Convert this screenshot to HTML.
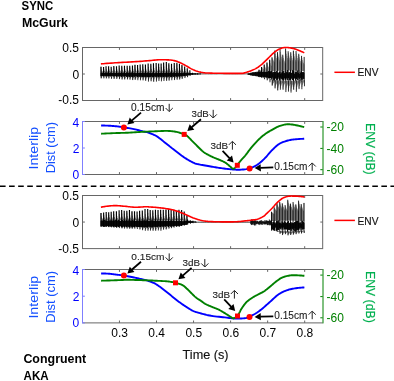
<!DOCTYPE html>
<html><head><meta charset="utf-8"><style>
html,body{margin:0;padding:0;background:#fff;width:394px;height:381px;overflow:hidden}
svg{display:block;will-change:transform}
text{font-family:"Liberation Sans",sans-serif}
</style></head><body>
<svg width="394" height="381" viewBox="0 0 394 381" font-family="Liberation Sans, sans-serif"><path d="M82.5 47.5H322.7 M82.5 100.5H322.7" stroke="#666666" stroke-width="1" fill="none"/>
<path d="M119.45 47.5v2.4 M119.45 100.5v-2.4M156.5 47.5v2.4 M156.5 100.5v-2.4M193.55 47.5v2.4 M193.55 100.5v-2.4M230.6 47.5v2.4 M230.6 100.5v-2.4M267.65 47.5v2.4 M267.65 100.5v-2.4M304.7 47.5v2.4 M304.7 100.5v-2.4" stroke="#666666" stroke-width="1" fill="none"/>
<path d="M82.5 47V101" stroke="#666666" stroke-width="1" fill="none"/>
<path d="M322.7 47V101" stroke="#666666" stroke-width="1" fill="none"/>
<path d="M82.5 74h2.4" stroke="#666666" stroke-width="1" fill="none"/>
<path d="M322.7 74h-2.4" stroke="#666666" stroke-width="1" fill="none"/>
<path d="M82.5 195.5H322.7 M82.5 248.6H322.7" stroke="#666666" stroke-width="1" fill="none"/>
<path d="M119.45 195.5v2.4 M119.45 248.6v-2.4M156.5 195.5v2.4 M156.5 248.6v-2.4M193.55 195.5v2.4 M193.55 248.6v-2.4M230.6 195.5v2.4 M230.6 248.6v-2.4M267.65 195.5v2.4 M267.65 248.6v-2.4M304.7 195.5v2.4 M304.7 248.6v-2.4" stroke="#666666" stroke-width="1" fill="none"/>
<path d="M82.5 195V249.1" stroke="#666666" stroke-width="1" fill="none"/>
<path d="M322.7 195V249.1" stroke="#666666" stroke-width="1" fill="none"/>
<path d="M82.5 222.05h2.4" stroke="#666666" stroke-width="1" fill="none"/>
<path d="M322.7 222.05h-2.4" stroke="#666666" stroke-width="1" fill="none"/>
<path d="M101 66.71V72.3M101 76.4V78.33M101.5 69.43V72.3M101.5 76.41V77.4M102 70.83V72.3M102 76.42V76.93M102.5 71.55V72.31M103 71.92V72.31M104 69.28V72.31M104 76.46V77.57M104.5 70.76V72.31M104.5 76.46V77.04M105 71.52V72.32M105.5 71.91V72.32M106.5 68.98V72.32M106.5 76.5V77.6M107 70.61V72.32M107 76.51V77.07M107.5 71.45V72.33M108 71.88V72.33M109 68.86V72.33M109 76.55V77.71M109.5 70.55V72.33M109.5 76.56V77.15M110 71.42V72.34M110 76.57V76.87M110.5 71.87V72.34M111.5 68.69V72.34M111.5 76.59V78.08M112 70.47V72.34M112 76.6V77.37M112.5 71.39V72.35M112.5 76.61V77M113 71.86V72.35M114 67.34V72.35M114 76.64V78.44M114.5 69.79V72.36M114.5 76.65V77.58M115 71.04V72.36M115 76.66V77.13M115.5 71.69V72.36M116 72.02V72.36M117 69.15V72.37M117 76.69V77.92M117.5 70.72V72.37M117.5 76.7V77.33M118 71.53V72.37M118 76.71V77.04M118.5 71.94V72.37M119.5 68.09V72.38M119.5 76.74V78.27M120 70.18V72.38M120 76.75V77.54M120.5 71.25V72.38M120.5 76.76V77.16M121 71.8V72.38M122 67.37V72.39M122 76.79V78.88M122.5 69.81V72.39M122.5 76.79V77.87M123 71.07V72.39M123 76.8V77.35M123.5 71.71V72.39M124 72.05V72.39M124.5 65.87V72.4M124.5 76.83V79.34M125 69.05V72.4M125 76.84V78.13M125.5 70.68V72.4M125.5 76.85V77.51M126 71.52V72.4M126 76.86V77.2M126.5 71.95V72.4M127.5 68.09V72.41M127.5 76.89V78.55M128 70.2V72.41M128 76.9V77.75M128.5 71.28V72.41M128.5 76.91V77.34M129 71.83V72.41M130 67.6V72.42M130 76.93V78.98M130.5 69.95V72.42M130.5 76.94V77.99M131 71.16V72.42M131 76.95V77.49M131.5 71.78V72.42M132 72.09V72.43M132.5 65.94V72.43M132.5 76.98V79.93M133 69.1V72.43M133 76.99V78.5M133.5 70.73V72.43M133.5 77V77.77M134 71.56V72.43M134 77.01V77.4M134.5 71.99V72.44M135 64.97V72.44M135 77.02V79.67M135.5 68.61V72.44M135.5 77.03V78.39M136 70.48V72.44M136 77.04V77.74M136.5 71.44V72.44M136.5 77.05V77.41M137 71.93V72.45M138 68.34V72.45M138 77.08V78.81M138.5 70.35V72.45M138.5 77.09V77.98M139 71.38V72.46M139 77.1V77.55M139.5 71.9V72.46M140.5 67.41V72.46M140.5 77.13V79.17M141 69.86V72.46M141 77.13V78.2M141.5 71.12V72.47M141.5 77.14V77.7M142 71.78V72.47M142.5 72.11V72.47M143 66.42V72.47M143 77.17V79.58M143.5 69.35V72.47M143.5 77.18V78.43M144 70.87V72.48M144 77.19V77.84M144.5 71.65V72.48M144.5 77.2V77.54M145 72.05V72.48M145.5 65.18V72.48M145.5 77.22V80.44M146 68.72V72.48M146 77.23V78.9M146.5 70.55V72.49M146.5 77.24V78.1M147 71.49V72.49M147 77.24V77.69M147.5 71.98V72.49M148.5 66.91V72.49M148.5 77.27V80.02M149 69.62V72.5M149 77.28V78.7M149.5 71.02V72.5M149.5 77.29V78.03M150 71.74V72.5M150 77.3V77.68M150.5 72.11V72.5M151 65.42V72.5M151 77.28V80.56M151.5 68.88V72.5M151.5 77.27V78.95M152 70.65V72.5M152 77.27V78.12M152.5 71.56V72.5M152.5 77.26V77.69M153 72.02V72.5M153.5 63.8V72.5M153.5 77.24V81.51M154 68.06V72.5M154 77.23V79.41M154.5 70.23V72.5M154.5 77.22V78.33M155 71.34V72.5M155 77.22V77.78M155.5 71.91V72.5M156 72.2V72.5M156.5 66.64V72.5M156.5 77.19V79.93M157 69.51V72.5M157 77.18V78.58M157.5 70.97V72.5M157.5 77.17V77.88M158 71.72V72.5M158 77.17V77.53M158.5 72.1V72.5M159 66.99V72.5M159 77.15V79.52M159.5 69.69V72.5M159.5 77.14V78.35M160 71.06V72.5M160 77.13V77.75M160.5 71.77V72.5M160.5 77.12V77.44M161 72.13V72.5M161.5 66.97V72.5M161.5 77.11V79.67M162 69.68V72.5M162 77.1V78.41M162.5 71.06V72.5M162.5 77.09V77.76M163 71.76V72.5M163 77.08V77.42M163.5 72.12V72.5M164 66.4V72.5M164 77.07V79.49M164.5 69.38V72.5M164.5 77.06V78.29M165 70.91V72.5M165 77.05V77.68M165.5 71.69V72.5M165.5 77.04V77.36M166 72.09V72.5M166.5 64.2V72.5M166.5 77.02V80.11M167 68.26V72.5M167 77.02V78.57M167.5 70.34V72.5M167.5 77.01V77.79M168 71.4V72.5M168 77V77.39M168.5 71.94V72.5M169 65.2V72.5M169 76.98V79.89M169.5 68.77V72.5M169.5 76.97V78.43M170 70.6V72.5M170 76.97V77.7M170.5 71.53V72.5M170.5 76.96V77.32M171 72.01V72.5M172 67.93V72.5M172 76.93V78.62M172.5 70.18V72.5M172.5 76.92V77.77M173 71.32V72.5M173 76.92V77.34M173.5 71.9V72.5M174 72.2V72.5M174.5 65.71V72.5M174.5 76.89V79.12M175 69.05V72.5M175 76.88V78M175.5 70.75V72.5M175.5 76.88V77.44M176 71.61V72.5M176.5 72.05V72.5M177 64.31V72.5M177 76.85V79.25M177.5 68.34V72.5M177.5 76.84V78.05M178 70.39V72.5M178 76.83V77.44M178.5 71.43V72.5M178.5 76.83V77.13M179 71.96V72.5M179.5 64.43V72.5M179.5 76.81V79.3M180 68.41V72.5M180 76.8V78.05M180.5 70.49V72.53M180.5 76.72V77.34M181 71.53V72.55M181 76.64V76.95M181.5 72.07V72.58M182 65.82V72.6M182 76.48V78.6M182.5 69.26V72.62M182.5 76.4V77.45M183 70.98V72.65M183 76.32V76.84M183.5 71.85V72.67M184 72.29V72.7M185 69.05V72.75M185 76V77.21M185.5 71V72.78M185.5 75.92V76.52M186 71.95V72.8M186.5 72.42V72.83M187.5 69.72V72.88M187.5 75.6V76.64M188 71.42V72.9M188 75.52V76M188.5 72.23V72.92M189 72.63V72.95" stroke="#000" stroke-width="0.5" stroke-opacity="0.8" fill="none"/>
<path d="M190 72.65V73M257 71.33V71.68M257.5 71.23V71.65M258 71.12V71.62M258.5 71.02V71.59M259 69.64V71.56M259 76.84V77.2M259.5 69.91V71.53M260 70.07V71.5M260.5 70.16V71.47M261 70.27V71.44M261.5 70.39V71.41M262 67.48V71.38M262 77.32V77.8M262.5 68.06V71.35M263 68.57V71.32M263.5 69.02V71.29M264 69.46V71.26M264.5 65.39V71.23M264.5 77.72V78.78M265 66.57V71.2M265 77.8V78.35M265.5 67.5V71.15M266 68.22V71.1M266.5 68.79V71.05M267 62.74V71M267 78.14V80.23M267.5 64.47V70.95M267.5 78.23V79.29M268 65.82V70.9M268 78.31V78.87M268.5 66.83V70.85M269 67.62V70.8M269.5 68.24V70.75M270 61.19V70.7M270 78.66V81.04M270.5 63.17V70.65M270.5 78.74V79.96M271 64.73V70.6M271 78.83V79.44M271.5 65.94V70.55M271.5 78.91V79.22" stroke="#000" stroke-width="0.5" stroke-opacity="0.45" fill="none"/>
<path d="M272 57.34V71M272 80V85.56M272.5 58.43V70.99M272.5 80.03V84.57M273 59.48V70.97M273 80.06V83.75M273.5 60.47V70.96M273.5 80.08V83.07M274 61.4V70.94M274 80.11V82.52M274.5 62.28V70.93M274.5 80.14V82.07M275 51.36V70.92M275 80.17V87.69M275.5 53.83V70.9M275.5 80.19V86.2M276 55.99V70.89M276 80.22V85M276.5 57.87V70.88M276.5 80.25V83.97M277 59.51V70.86M277 80.28V83.18M277.5 52.25V70.85M277.5 80.31V90.36M278 54.61V70.83M278 80.33V88.15M278.5 56.66V70.82M278.5 80.36V86.44M279 58.46V70.81M279 80.39V85.11M279.5 60.17V70.79M279.5 80.42V84.08M280 61.63V70.78M280 80.44V83.29M280.5 51.86V70.76M280.5 80.47V87.77M281 54.49V70.75M281 80.5V86.02M281.5 56.74V70.74M281.5 80.53V84.71M282 58.68V70.72M282 80.56V83.72M282.5 60.34V70.71M282.5 80.58V82.98M283 55.8V70.69M283 80.61V88.65M283.5 57.86V70.68M283.5 80.64V86.72M284 59.64V70.67M284 80.67V85.27M284.5 61.16V70.65M284.5 80.69V84.18M285 62.47V70.64M285 80.72V83.36M285.5 63.6V70.62M285.5 80.75V82.75M286 51.01V70.61M286 80.78V89.78M286.5 53.73V70.6M286.5 80.81V87.62M287 56.07V70.58M287 80.83V85.99M287.5 58.08V70.57M287.5 80.86V84.77M288 59.81V70.56M288 80.89V83.85M288.5 53.13V70.54M288.5 80.92V89.79M289 55.54V70.53M289 80.94V87.66M289.5 57.62V70.51M289.5 80.97V86.06M290 59.41V70.5M290 81V84.85M290.5 60.98V70.52M290.5 80.97V83.89M291 53.61V70.53M291 80.93V91.03M291.5 55.99V70.55M291.5 80.9V88.58M292 58.05V70.57M292 80.86V86.71M292.5 59.82V70.59M292.5 80.83V85.22M293 61.34V70.6M293 80.79V84.1M293.5 51.29V70.62M293.5 80.76V89.22M294 54.01V70.64M294 80.72V87.08M294.5 56.36V70.66M294.5 80.69V85.47M295 58.38V70.67M295 80.66V84.25M295.5 60.12V70.69M295.5 80.62V83.32M296 61.61V70.71M296 80.59V82.62M296.5 53.51V70.72M296.5 80.55V89.32M297 55.94V70.74M297 80.52V87.11M297.5 58.03V70.76M297.5 80.48V85.44M298 59.83V70.78M298 80.45V84.17M298.5 61.38V70.79M298.5 80.41V83.21M299 55.03V70.81M299 80.38V87.9M299.5 57.26V70.83M299.5 80.34V86M300 59.18V70.84M300 80.31V84.56M300.5 60.95V70.86M300.5 80.28V83.4M301 62.47V70.88M301 80.24V82.54M301.5 63.76V70.9M301.5 80.21V81.9M302 57.91V70.91M302 80.17V87.04M302.5 59.9V70.93M302.5 80.14V85.18M303 61.59V70.95M303 80.1V83.8M303.5 63.03V70.97M303.5 80.07V82.77M304 64.26V70.98M304 80.03V82.01" stroke="#000" stroke-width="0.5" stroke-opacity="0.6" fill="none"/>
<path d="M101 72.6V76.1M101.5 72.47V76.24M102 72.74V75.99M102.5 72.6V76.13M103 72.92V75.82M103.5 72.57V76.19M104 72.55V76.22M104.5 72.9V75.88M105 72.65V76.14M105.5 72.72V76.08M106 72.48V76.33M106.5 72.91V75.91M107 72.35V76.49M107.5 72.67V76.18M108 72.76V76.1M108.5 72.76V76.1M109 72.59V76.29M109.5 72.73V76.16M110 72.95V75.95M110.5 72.51V76.41M111 72.84V76.09M111.5 72.83V76.11M112 72.71V76.24M112.5 72.92V76.04M113 72.78V76.19M113.5 72.71V76.27M114 72.89V76.1M114.5 72.58V76.42M115 72.71V76.3M115.5 72.93V76.1M116 72.88V76.15M116.5 72.47V76.58M117 72.83V76.23M117.5 72.6V76.47M118 72.8V76.29M118.5 72.83V76.26M119 72.85V76.25M119.5 72.76V76.36M120 72.76V76.36M120.5 72.93V76.2M121 72.42V76.73M121.5 72.39V76.77M122 72.42V76.75M122.5 72.9V76.28M123 72.5V76.7M123.5 72.71V76.49M124 72.83V76.38M124.5 73.02V76.21M125 72.87V76.37M125.5 73.04V76.21M126 72.61V76.65M126.5 72.47V76.8M127 72.69V76.59M127.5 72.58V76.72M128 72.88V76.42M128.5 72.73V76.58M129 72.46V76.87M129.5 72.86V76.48M130 72.51V76.84M130.5 72.57V76.79M131 72.97V76.41M131.5 72.55V76.84M132 72.57V76.83M132.5 72.56V76.85M133 73.11V76.31M133.5 72.53V76.9M134 72.93V76.51M134.5 72.76V76.69M135 72.8V76.66M135.5 73.13V76.35M136 73.05V76.44M136.5 73.09V76.41M137 72.55V76.96M137.5 72.79V76.73M138 72.93V76.6M138.5 72.7V76.84M139 72.9V76.65M139.5 72.93V76.64M140 72.77V76.81M140.5 72.89V76.69M141 73.04V76.56M141.5 72.74V76.87M142 72.9V76.72M142.5 72.73V76.9M143 72.91V76.73M143.5 72.68V76.97M144 72.69V76.97M144.5 73.01V76.66M145 72.7V76.99M145.5 72.89V76.81M146 72.57V77.14M146.5 72.93V76.79M147 72.64V77.1M147.5 72.87V76.87M148 72.63V77.13M148.5 72.57V77.19M149 72.73V77.04M149.5 72.81V76.98M150 72.8V77M150.5 73.12V76.68M151 73.19V76.6M151.5 73.15V76.63M152 73.09V76.68M152.5 72.61V77.15M153 72.61V77.14M153.5 72.62V77.13M154 72.8V76.93M154.5 73.18V76.54M155 72.85V76.87M155.5 73.13V76.58M156 72.55V77.15M156.5 72.98V76.72M157 72.62V77.06M157.5 73.08V76.6M158 72.77V76.9M158.5 72.92V76.73M159 72.92V76.73M159.5 72.91V76.74M160 72.85V76.79M160.5 72.91V76.72M161 73.08V76.54M161.5 72.67V76.94M162 72.83V76.77M162.5 72.75V76.85M163 73.08V76.5M163.5 72.67V76.9M164 72.83V76.74M164.5 72.69V76.87M165 73V76.55M165.5 72.78V76.76M166 73.02V76.51M166.5 72.53V76.99M167 72.7V76.82M167.5 72.6V76.91M168 72.99V76.51M168.5 73.16V76.33M169 72.92V76.57M169.5 72.93V76.55M170 72.65V76.82M170.5 72.51V76.95M171 72.77V76.68M171.5 72.61V76.83M172 72.79V76.64M172.5 72.69V76.74M173 72.9V76.52M173.5 72.53V76.88M174 73.01V76.39M174.5 72.69V76.71M175 72.53V76.86M175.5 73V76.38M176 72.99V76.38M176.5 72.69V76.67M177 72.57V76.78M177.5 72.59V76.75M178 72.87V76.46M178.5 73.09V76.23M179 72.61V76.71M179.5 72.92V76.39M180 72.71V76.59M180.5 72.94V76.3M181 72.87V76.32M181.5 72.82V76.31M182 72.95V76.13M182.5 73.12V75.9M183 72.83V76.14M183.5 72.74V76.18M184 73.17V75.69M184.5 73.04V75.77M185 72.87V75.88M185.5 72.93V75.77M186 72.89V75.75M186.5 72.93V75.65M187 72.99V75.54M187.5 73.24V75.24M188 73.15V75.27M188.5 73.05V75.32M189 73.25V75.06M189.5 73.1V75.15M190 73.07V74.83M190.5 73.1V74.8M191 73.25V74.65M191.5 73.12V74.78M192 73.24V74.66M192.5 73.2V74.7M193 73.33V74.57M193.5 73.3V74.6M194 73.37V74.53M194.5 73.44V74.46M195 73.47V74.43M195.5 73.36V74.54M196 73.49V74.41M196.5 73.47V74.43M197 73.43V74.47M197.5 73.49V74.41M198 73.55V74.35M198.5 73.55V74.35M199 73.62V74.28M199.5 73.57V74.33M200 73.59V74.31M200.5 73.73V74.17M201 73.7V74.2M201.5 73.75V74.15M202 73.74V74.16M202.5 73.72V74.18M203 73.72V74.18M203.5 73.74V74.16M204 73.74V74.16M204.5 73.74V74.16M205 73.74V74.16M205.5 73.74V74.16M206 73.7V74.2M206.5 73.76V74.14M207 73.73V74.17M207.5 73.75V74.15M208 73.77V74.13M208.5 73.71V74.19M209 73.71V74.19M209.5 73.76V74.14M210 73.73V74.17M210.5 73.72V74.18M211 73.75V74.15M211.5 73.71V74.19M212 73.74V74.16M212.5 73.74V74.16M213 73.77V74.13M213.5 73.76V74.14M214 73.74V74.16M214.5 73.73V74.17M215 73.73V74.17M215.5 73.74V74.16M216 73.74V74.16M216.5 73.71V74.19M217 73.75V74.15M217.5 73.74V74.16M218 73.76V74.14M218.5 73.76V74.14M219 73.76V74.14M219.5 73.76V74.14M220 73.76V74.14M220.5 73.76V74.14M221 73.77V74.13M221.5 73.74V74.16M222 73.77V74.13M222.5 73.74V74.16M223 73.77V74.13M223.5 73.75V74.15M224 73.7V74.2M224.5 73.77V74.13M225 73.76V74.14M225.5 73.75V74.15M226 73.77V74.13M226.5 73.75V74.15M227 73.74V74.16M227.5 73.75V74.15M228 73.76V74.14M228.5 73.73V74.17M229 73.77V74.13M229.5 73.7V74.2M230 73.77V74.13M230.5 73.77V74.13M231 73.77V74.13M231.5 73.73V74.17M232 73.76V74.14M232.5 73.74V74.16M233 73.71V74.19M233.5 73.77V74.13M234 73.73V74.17M234.5 73.77V74.13M235 73.71V74.19M235.5 73.75V74.15M236 73.72V74.18M236.5 73.76V74.14M237 73.72V74.18M237.5 73.73V74.17M238 73.75V74.15M238.5 73.76V74.14M239 73.74V74.16M239.5 73.76V74.14M240 73.73V74.17M240.5 73.75V74.15M241 73.76V74.14M241.5 73.77V74.13M242 73.72V74.18M242.5 73.77V74.13M243 73.71V74.19M243.5 73.71V74.19M244 73.74V74.16M244.5 73.72V74.18M245 73.75V74.15M245.5 73.75V74.15M246 73.77V74.13M246.5 73.77V74.13M247 73.73V74.17M247.5 73.77V74.13M248 73.25V74.95M248.5 73.39V74.8M249 73.26V74.91M249.5 73.22V74.93M250 73.1V75.05M250.5 72.86V75.27M251 72.7V75.41M251.5 72.8V75.3M252 72.67V75.41M252.5 72.39V75.69M253 72.3V75.76M253.5 72.37V75.68M254 72.16V75.86M254.5 72.31V75.7M255 72.41V75.59M255.5 71.95V76.1M256 71.98V76.12M256.5 72.27V75.88M257 71.68V76.52M257.5 72.07V76.18M258 72.21V76.09M258.5 71.64V76.71M259 71.66V76.74M259.5 71.84V76.61M260 71.88V76.62M260.5 71.51V77.04M261 71.48V77.12M261.5 71.61V77.04M262 71.38V77.32M262.5 71.99V76.76M263 72.07V76.73M263.5 71.55V77.3M264 71.72V77.18M264.5 72.16V76.79M265 71.92V77.08M265.5 71.81V77.22M266 71.36V77.71M266.5 71.99V77.11M267 71.63V77.51M267.5 71.87V77.3M268 71.23V77.98M268.5 70.87V78.38M269 71.52V77.76M269.5 71.56V77.76M270 71.27V78.09M270.5 71.43V77.97M271 71.48V77.95M271.5 70.69V78.77M272 71.54V79.63M272.5 72.41V77.54M273 73.88V77.61M273.5 71.89V80.45M274 72.67V78.91M274.5 71.63V80.44M275 71.88V78.93M275.5 71.72V78.33M276 73.47V78.23M276.5 70.97V80.3M277 72.3V78.37M277.5 72.88V79.24M278 73.13V79.51M278.5 72.94V77.65M279 72.04V78.87M279.5 71.75V80.51M280 71.16V80.43M280.5 73.71V77.77M281 72.05V79.16M281.5 73.19V78.75M282 70.35V79.66M282.5 71.48V79.4M283 72.77V79.8M283.5 71.03V80.75M284 73.75V78.93M284.5 72.93V78.04M285 70.86V79.91M285.5 73.56V79.26M286 70.49V80.31M286.5 72.11V78.6M287 72.85V77.76M287.5 69.96V80.13M288 72.46V78.02M288.5 73.45V78.09M289 71.87V80.68M289.5 72.18V80.32M290 73.28V77.52M290.5 69.95V80.15M291 72.79V78.62M291.5 72.9V78.7M292 73.09V77.5M292.5 70.15V80.13M293 70.38V79.99M293.5 70.92V81.02M294 71.13V79.08M294.5 73.92V78.26M295 72.64V77.69M295.5 71.82V80.69M296 74.26V78.5M296.5 71.91V78.99M297 73.18V77.72M297.5 70.44V80.1M298 72.73V77.36M298.5 73.08V77.66M299 70.38V79.46M299.5 73.84V78.74M300 71.62V81.07M300.5 72.76V77.91M301 70.99V80.08M301.5 71.43V79.08M302 73.38V77.21M302.5 72.08V79.89M303 72.07V78.86M303.5 72.13V78.72M304 72.78V79.3" stroke="#000" stroke-width="0.9" fill="none"/>
<path d="M101 66.71V76.4M103.57 66.9V76.45M106.05 66.25V76.49M108.59 66.32V76.54M111.18 66.76V76.59M113.82 65.97V76.64M116.51 66.21V76.68M119.16 65.61V76.73M121.78 65.68V76.78M124.48 65.68V76.83M127.18 65.76V76.88M129.75 65.69V76.93M132.46 65.6V76.98M134.97 64.64V77.02M137.55 64.96V77.07M140.15 64.47V77.12M142.78 64.31V77.17M145.42 64.39V77.22M148.15 63.61V77.27M150.84 63.77V77.29M153.46 63.35V77.24M156.15 63.09V77.2M158.63 63.49V77.16M161.13 63.38V77.11M163.64 62.55V77.07M166.33 62.12V77.03M168.82 63.15V76.99M171.51 63.67V76.94M174.24 62.89V76.9M176.87 62.73V76.85M179.45 63.82V76.81M181.93 65.09V76.49M184.65 66.52V76.06M187.24 68.18V75.64M189.86 70.15V75.22M190 72.65V74.9M192.5 72.86V74.76M195.06 73.06V74.61M197.67 73.28V74.46M200.22 73.48V74.32M200.5 73.61V74.2M259 69.64V76.84M261.57 66.95V77.25M264.19 64.52V77.67M266.97 62.62V78.14M269.68 59.64V78.6" stroke="#000" stroke-width="1.15" fill="none"/>
<path d="M272 57.34V80M274.78 50.5V80.15M277.49 52.2V80.31M280.07 49.27V80.45M282.76 54.7V80.6M285.59 48.46V80.75M288.16 51.26V80.9M290.74 52.2V80.95M293.39 50.61V80.77M296.06 51.07V80.58M298.75 53.76V80.4M301.56 55.86V80.2M304.16 56.92V80.02" stroke="#000" stroke-width="0.85" fill="none"/>
<path d="M101.3 76.4V78.33M103.87 76.45V78.43M106.35 76.49V78.48M108.89 76.54V78.55M111.48 76.59V78.86M114.12 76.64V78.93M116.81 76.68V79.02M119.46 76.73V79.15M122.08 76.78V79.58M124.78 76.83V79.41M127.48 76.88V79.45M130.05 76.93V79.78M132.76 76.98V80.08M135.27 77.02V79.78M137.85 77.07V80.23M140.45 77.12V80.34M143.08 77.17V80.41M145.72 77.22V80.79M148.45 77.27V81.61M151.14 77.29V81.34M153.76 77.24V81.74M156.45 77.2V81.6M158.93 77.16V81.04M161.43 77.11V81.35M163.94 77.07V81.03M166.63 77.03V80.91M169.12 76.99V80.73M171.81 76.94V80.25M174.54 76.9V80.08M177.17 76.85V79.73M179.75 76.81V79.49M182.23 76.49V78.83M184.95 76.06V78.05M187.54 75.64V77.21M190.16 75.22V75.99M190.3 74.9V75.17M192.8 74.76V75M195.36 74.61V74.8M197.97 74.46V74.6M200.52 74.32V74.42M200.8 74.2V74.29M259.3 76.84V77.2M261.87 77.25V78.06M264.49 77.67V79.26M267.27 78.14V80.32M269.98 78.6V82.28M272.3 80V85.56M275.08 80.15V88.44M277.79 80.31V90.4M280.37 80.45V89.72M283.06 80.6V89.78M285.89 80.75V92.07M288.46 80.9V91.63M291.04 80.95V92.61M293.69 80.77V89.79M296.36 80.58V91.83M299.05 80.4V89.1M301.86 80.2V89.24M304.46 80.02V86.28" stroke="#000" stroke-width="0.8" fill="none"/>
<path d="M100.9 63.9 L101.98 63.81 L103.41 63.7 L105.12 63.55 L107.01 63.4 L109.03 63.24 L111.08 63.08 L113.1 62.93 L115 62.8 L116.83 62.69 L118.66 62.59 L120.52 62.49 L122.38 62.4 L124.26 62.31 L126.16 62.21 L128.07 62.11 L130 62 L131.97 61.88 L134.01 61.75 L136.07 61.61 L138.14 61.47 L140.2 61.33 L142.21 61.18 L144.15 61.04 L146 60.9 L147.78 60.75 L149.53 60.6 L151.24 60.44 L152.89 60.28 L154.48 60.13 L155.98 60 L157.39 59.88 L158.7 59.8 L159.87 59.74 L160.92 59.71 L161.86 59.7 L162.72 59.7 L163.54 59.72 L164.34 59.74 L165.15 59.77 L166 59.8 L166.87 59.83 L167.73 59.86 L168.57 59.89 L169.41 59.93 L170.24 59.99 L171.07 60.06 L171.89 60.17 L172.7 60.3 L173.51 60.46 L174.3 60.65 L175.09 60.85 L175.87 61.08 L176.65 61.33 L177.43 61.6 L178.21 61.89 L179 62.2 L179.8 62.54 L180.6 62.9 L181.4 63.29 L182.2 63.69 L183 64.11 L183.8 64.54 L184.6 64.97 L185.4 65.4 L186.19 65.84 L186.98 66.3 L187.77 66.77 L188.56 67.24 L189.34 67.71 L190.13 68.17 L190.91 68.6 L191.7 69 L192.49 69.37 L193.27 69.73 L194.06 70.07 L194.84 70.39 L195.63 70.7 L196.42 70.99 L197.21 71.25 L198 71.5 L198.8 71.73 L199.61 71.93 L200.43 72.12 L201.24 72.29 L202.05 72.44 L202.85 72.57 L203.64 72.69 L204.4 72.8 L205.11 72.89 L205.75 72.95 L206.37 72.99 L206.98 73.02 L207.61 73.04 L208.31 73.06 L209.09 73.07 L210 73.1 L210.97 73.13 L211.96 73.16 L212.99 73.19 L214.1 73.21 L215.32 73.24 L216.69 73.26 L218.24 73.28 L220 73.3 L222.13 73.32 L224.67 73.34 L227.47 73.37 L230.38 73.39 L233.23 73.4 L235.89 73.41 L238.2 73.41 L240 73.4 L241.26 73.38 L242.12 73.36 L242.65 73.33 L242.97 73.29 L243.17 73.24 L243.35 73.18 L243.59 73.1 L244 73 L244.53 72.88 L245.08 72.75 L245.63 72.59 L246.19 72.42 L246.75 72.25 L247.3 72.07 L247.86 71.88 L248.4 71.7 L248.93 71.52 L249.46 71.33 L249.99 71.14 L250.51 70.95 L251.03 70.75 L251.55 70.54 L252.08 70.33 L252.6 70.1 L253.12 69.87 L253.65 69.63 L254.17 69.39 L254.7 69.14 L255.22 68.88 L255.75 68.6 L256.27 68.31 L256.8 68 L257.32 67.67 L257.85 67.33 L258.38 66.98 L258.9 66.61 L259.43 66.22 L259.95 65.83 L260.48 65.42 L261 65 L261.52 64.57 L262.05 64.12 L262.57 63.65 L263.1 63.17 L263.62 62.69 L264.15 62.2 L264.68 61.7 L265.2 61.2 L265.72 60.7 L266.24 60.18 L266.76 59.66 L267.27 59.14 L267.8 58.61 L268.32 58.07 L268.86 57.54 L269.4 57 L269.95 56.45 L270.51 55.89 L271.08 55.32 L271.65 54.75 L272.23 54.19 L272.81 53.63 L273.4 53.1 L274 52.6 L274.61 52.11 L275.22 51.64 L275.85 51.17 L276.48 50.73 L277.11 50.3 L277.74 49.9 L278.37 49.53 L279 49.2 L279.62 48.9 L280.25 48.63 L280.88 48.39 L281.5 48.18 L282.12 48 L282.75 47.84 L283.38 47.71 L284 47.6 L284.62 47.52 L285.25 47.48 L285.88 47.47 L286.5 47.49 L287.12 47.52 L287.75 47.57 L288.38 47.63 L289 47.7 L289.62 47.78 L290.25 47.87 L290.88 47.97 L291.5 48.09 L292.12 48.23 L292.75 48.37 L293.38 48.53 L294 48.7 L294.62 48.88 L295.24 49.08 L295.86 49.29 L296.48 49.52 L297.1 49.75 L297.73 50 L298.36 50.25 L299 50.5 L299.68 50.78 L300.43 51.09 L301.2 51.43 L301.96 51.76 L302.69 52.08 L303.34 52.38 L303.89 52.62 L304.3 52.8" fill="none" stroke="#ff0000" stroke-width="1.6" stroke-linejoin="round"/>
<path d="M101 213.04V219.8M101.5 216.32V219.8M102 218.01V219.8M102.5 218.88V219.81M103 219.33V219.81M104 215.24V219.81M104.5 217.46V219.81M105 218.6V219.82M105.5 219.19V219.82M106 219.5V219.82M106.5 214.59V219.82M107 217.13V219.82M107.5 218.44V219.83M108 219.12V219.83M108.5 219.46V219.83M109 214.82V219.83M109.5 217.26V219.83M110 218.51V219.84M110.5 219.16V219.84M111 219.49V219.84M111.5 214.65V219.84M112 217.17V219.84M112.5 218.47V219.85M113 219.14V219.85M113.5 219.49V219.85M114 214.23V219.85M114 227.07V227.44M114.5 216.96V219.86M115 218.37V219.86M115.5 219.09V219.86M116 219.47V219.86M116.5 212.45V219.86M116.5 227.12V227.8M117 216.05V219.87M117 227.13V227.49M117.5 217.91V219.87M118 218.86V219.87M118.5 219.35V219.87M119.5 214.04V219.88M119.5 227.18V227.74M120 216.88V219.88M120.5 218.34V219.88M121 219.09V219.88M121.5 219.48V219.88M122 213.54V219.89M122 227.23V228.02M122.5 216.63V219.89M122.5 227.24V227.66M123 218.21V219.89M123.5 219.03V219.89M124 219.46V219.89M124.5 213.73V219.9M124.5 227.28V228.17M125 216.76V219.9M125 227.29V227.74M125.5 218.31V219.9M126 219.09V219.9M126.5 219.49V219.9M127 212.56V219.91M127 227.33V228.34M127.5 216.17V219.91M127.5 227.34V227.85M128 218.01V219.91M128.5 218.95V219.91M129 219.42V219.91M129.5 210.73V219.92M129.5 227.38V228.6M130 215.25V219.92M130 227.39V228.01M130.5 217.55V219.92M130.5 227.4V227.72M131 218.72V219.92M131.5 219.31V219.92M132 211.49V219.93M132 227.43V228.61M132.5 215.64V219.93M132.5 227.44V228.04M133 217.75V219.93M133 227.45V227.76M133.5 218.83V219.93M134 219.37V219.93M135 215.36V219.94M135 227.49V228.13M135.5 217.62V219.94M135.5 227.5V227.83M136 218.76V219.94M136.5 219.34V219.94M137 219.63V219.95M137.5 215.14V219.95M137.5 227.54V228.36M138 217.47V219.95M138 227.56V228M138.5 218.68V219.95M139 219.3V219.96M139.5 219.62V219.96M140 214.49V219.96M140 227.6V228.78M140.5 217.15V219.96M140.5 227.61V228.24M141 218.52V219.96M141 227.62V227.96M141.5 219.22V219.97M142 219.58V219.97M142.5 212.71V219.97M142.5 227.65V229.66M143 216.24V219.97M143 227.66V228.73M143.5 218.05V219.97M143.5 227.67V228.23M144 218.99V219.98M144 227.68V227.98M144.5 219.47V219.98M145.5 214.21V219.98M145.5 227.71V229.34M146 217.03V219.98M146 227.72V228.55M146.5 218.48V219.99M146.5 227.73V228.15M147 219.22V219.99M147.5 219.6V219.99M148 212.75V219.99M148 227.76V229.75M148.5 216.29V219.99M148.5 227.77V228.78M149 218.11V220M149 227.78V228.29M149.5 219.03V220M150 219.51V220M150.5 213.47V220M150.5 227.78V229.62M151 216.67V220.01M151 227.76V228.7M151.5 218.31V220.01M151.5 227.74V228.22M152 219.15V220.02M152.5 219.58V220.03M153 212.56V220.03M153 227.67V230.08M153.5 216.22V220.03M153.5 227.65V228.88M154 218.09V220.04M154 227.63V228.26M154.5 219.05V220.05M154.5 227.61V227.93M155 219.54V220.05M155.5 210.38V220.06M155.5 227.56V230.48M156 215.12V220.06M156 227.54V229.04M156.5 217.54V220.06M156.5 227.52V228.29M157 218.78V220.07M157 227.5V227.89M157.5 219.42V220.07M158 219.74V220.08M158.5 214.7V220.09M158.5 227.43V229.07M159 217.34V220.09M159 227.41V228.25M159.5 218.69V220.09M159.5 227.39V227.82M160 219.38V220.1M160.5 219.74V220.11M161 213.82V220.11M161 227.32V229.38M161.5 216.91V220.12M161.5 227.3V228.32M162 218.49V220.12M162 227.28V227.78M162.5 219.3V220.12M163 219.71V220.13M163.5 212.49V220.13M163.5 227.22V229.05M164 216.25V220.14M164 227.19V228.1M164.5 218.16V220.15M164.5 227.17V227.62M165 219.14V220.15M165.5 219.64V220.16M166 209.9V220.16M166 227.11V229.25M166.5 214.95V220.17M166.5 227.09V228.13M167 217.51V220.17M167 227.06V227.57M167.5 218.82V220.18M168 219.49V220.18M168.5 219.84V220.19M169 213.68V220.19M169 226.98V227.95M169.5 216.88V220.19M169.5 226.96V227.42M170 218.51V220.2M170.5 219.35V220.21M171 219.77V220.21M171.5 213.76V220.22M171.5 226.87V227.62M172 216.94V220.22M172 226.85V227.2M172.5 218.55V220.23M173 219.38V220.23M173.5 219.8V220.24M174 212.25V220.24M174 226.76V227.3M174.5 216.18V220.25M175 218.18V220.25M175.5 219.19V220.25M176 219.71V220.26M176.5 212.34V220.27M177 216.2V220.27M177.5 218.18V220.28M178 219.21V220.28M178.5 219.73V220.29M179 210.56V220.29M179.5 215.3V220.3M180 217.73V220.3M180.5 219.01V220.33M181 219.69V220.37M181.5 220.05V220.4M182 214.11V220.43M182.5 217.39V220.47M183 219.01V220.5M183.5 219.81V220.53M184 220.22V220.57M184.5 214.72V220.6M185 217.81V220.63M185.5 219.36V220.67M186 220.1V220.7M187 215.82V220.77" stroke="#000" stroke-width="0.5" stroke-opacity="0.8" fill="none"/>
<path d="M187.5 219.51V220.5M187.5 223.5V224.37M188 219.93V220.57M188 223.44V223.82M188.5 220.22V220.64M190.5 220.41V220.92M190.5 223.11V223.5M191 220.67V220.99M193 220.84V221.28M193 222.79V223.11" stroke="#000" stroke-width="0.5" stroke-opacity="0.45" fill="none"/>
<path d="M271.5 211.78V221M272 212.25V220.99M272.5 212.71V220.97M273 213.15V220.96M273.5 213.59V220.95M274 214.01V220.93M274.5 207.79V220.92M275 208.59V220.91M275.5 209.36V220.89M276 210.09V220.88M276.5 210.89V220.86M277 203.31V220.85M277 230.8V231.67M277.5 204.63V220.84M277.5 230.82V231.77M278 205.85V220.82M278 230.85V231.82M278.5 206.99V220.81M278.5 230.88V231.81M279 208.04V220.8M279 230.91V231.78M279.5 209.02V220.78M279.5 230.93V231.74M280 202.69V220.77M280 230.96V233.57M280.5 204.4V220.76M280.5 230.99V233.31M281 205.94V220.74M281 231.01V233.07M281.5 207.34V220.73M281.5 231.04V232.84M282 208.6V220.72M282 231.07V232.63M282.5 204.02V220.7M282.5 231.09V234.69M283 205.59V220.69M283 231.12V233.98M283.5 207.02V220.68M283.5 231.15V233.42M284 208.3V220.66M284 231.18V232.99M284.5 209.47V220.65M284.5 231.2V232.64M285 210.52V220.64M285 231.23V232.38M285.5 206.27V220.62M285.5 231.26V233.76M286 207.63V220.61M286 231.28V233.27M286.5 208.85V220.59M286.5 231.31V232.89M287 209.96V220.58M287 231.34V232.6M287.5 210.96V220.57M287.5 231.36V232.37M288 200.82V220.55M288 231.39V234.94M288.5 202.69V220.54M288.5 231.42V234.24M289 204.37V220.53M289 231.45V233.69M289.5 205.9V220.51M289.5 231.47V233.26M290 207.28V220.5M290 231.5V232.92M290.5 203.83V220.52M290.5 231.47V234.86M291 205.49V220.53M291 231.43V234.18M291.5 206.98V220.55M291.5 231.4V233.61M292 208.33V220.57M292 231.36V233.15M292.5 209.55V220.59M292.5 231.33V232.77M293 210.65V220.6M293 231.29V232.46M293.5 203.58V220.62M293.5 231.26V234.11M294 205.27V220.64M294 231.22V233.52M294.5 206.8V220.66M294.5 231.19V233.04M295 208.18V220.67M295 231.16V232.65M295.5 209.42V220.69M295.5 231.12V232.29M296 204.95V220.71M296 231.09V233.94M296.5 206.51V220.72M296.5 231.05V233.28M297 207.93V220.74M297 231.02V232.76M297.5 209.2V220.76M297.5 230.98V232.34M298 210.36V220.78M298 230.95V232.01M298.5 211.4V220.79M298.5 230.91V231.74M299 202.4V220.81M299 230.88V233.07M299.5 204.22V220.83M299.5 230.84V232.55M300 205.87V220.84M300 230.81V232.14M300.5 207.47V220.86M300.5 230.78V231.81M301 208.91V220.88M301 230.74V231.54M301.5 205.1V220.9M301.5 230.71V233.1M302 206.79V220.91M302 230.67V232.53M302.5 208.3V220.93M302.5 230.64V232.08M303 209.66V220.95M303 230.6V231.72M303.5 210.88V220.97M303.5 230.57V231.43M304 203.05V220.98M304 230.53V232.9" stroke="#000" stroke-width="0.5" stroke-opacity="0.7" fill="none"/>
<path d="M101 220.6V226M101.5 220.23V226.38M102 220.85V225.77M102.5 220.47V226.17M103 219.86V226.79M103.5 220.32V226.34M104 220.15V226.52M104.5 219.92V226.77M105 219.95V226.75M105.5 220.46V226.25M106 220.77V225.95M106.5 220.82V225.91M107 220.67V226.08M107.5 220.53V226.23M108 220.9V225.88M108.5 220.79V225.99M109 220.87V225.92M109.5 220.25V226.56M110 220.64V226.18M110.5 220.52V226.31M111 220V226.84M111.5 220.42V226.44M112 220.83V226.04M112.5 220.56V226.33M113 220.03V226.86M113.5 220.91V226M114 220.36V226.55M114.5 220.35V226.58M115 220.37V226.57M115.5 220.01V226.95M116 220.66V226.3M116.5 220.77V226.21M117 220.37V226.62M117.5 220.6V226.41M118 220.08V226.94M118.5 220.03V227M119 220.07V226.97M119.5 220.72V226.33M120 220.58V226.48M120.5 220.95V226.13M121 220.7V226.39M121.5 219.93V227.17M122 219.96V227.16M122.5 219.94V227.19M123 220.75V226.39M123.5 220.78V226.37M124 220.31V226.85M124.5 220.07V227.1M125 220.28V226.91M125.5 220.92V226.28M126 220V227.21M126.5 220.18V227.04M127 220.82V226.42M127.5 220.65V226.6M128 219.94V227.32M128.5 220.58V226.69M129 220.22V227.06M129.5 220.89V226.4M130 220.03V227.29M130.5 220.88V226.44M131 219.94V227.39M131.5 220.66V226.69M132 220.9V226.45M132.5 219.96V227.41M133 220.46V226.92M133.5 220.57V226.82M134 220.13V227.28M134.5 220.78V226.64M135 220.8V226.63M135.5 220.78V226.66M136 220.93V226.53M136.5 220.68V226.79M137 220.42V227.06M137.5 220.61V226.88M138 220.52V226.99M138.5 220.5V227.02M139 220.6V226.94M139.5 221.1V226.45M140 220.91V226.65M140.5 220.28V227.29M141 220.74V226.84M141.5 220.48V227.12M142 221V226.61M142.5 220.83V226.78M143 220.23V227.39M143.5 220.48V227.16M144 220.08V227.58M144.5 220.43V227.24M145 220.54V227.13M145.5 220.62V227.07M146 220.59V227.11M146.5 220.34V227.38M147 220.05V227.67M147.5 220.5V227.24M148 220.18V227.57M148.5 221.02V226.74M149 221.08V226.7M149.5 221.08V226.71M150 220.25V227.55M150.5 220.99V226.79M151 220.4V227.36M151.5 220.15V227.6M152 220.92V226.81M152.5 220.72V227M153 220.04V227.66M153.5 220.99V226.69M154 220.59V227.08M154.5 220.96V226.69M155 220.36V227.27M155.5 220.56V227.06M156 221.16V226.44M156.5 220.49V227.1M157 221.11V226.45M157.5 220.31V227.24M158 221.07V226.46M158.5 221.14V226.37M159 220.89V226.61M159.5 220.73V226.76M160 220.3V227.17M160.5 221.03V226.42M161 220.57V226.86M161.5 221.1V226.32M162 220.45V226.95M162.5 221.12V226.27M163 220.52V226.85M163.5 221.11V226.24M164 221.13V226.21M164.5 220.72V226.6M165 220.62V226.68M165.5 220.92V226.36M166 220.65V226.61M166.5 221.09V226.16M167 221.15V226.08M167.5 220.88V226.33M168 220.43V226.77M168.5 220.7V226.49M169 220.85V226.31M169.5 220.96V226.19M170 220.47V226.66M170.5 221.02V226.1M171 220.28V226.82M171.5 220.4V226.69M172 220.72V226.34M172.5 220.83V226.22M173 220.54V226.5M173.5 220.88V226.14M174 220.53V226.47M174.5 220.82V226.16M175 221.17V225.8M175.5 221.15V225.8M176 220.98V225.96M176.5 221.14V225.77M177 220.39V226.51M177.5 220.96V225.93M178 220.95V225.92M178.5 221.08V225.77M179 220.98V225.85M179.5 220.32V226.5M180 221V225.8M180.5 220.96V225.74M181 221.25V225.35M181.5 220.85V225.65M182 221.1V225.3M182.5 221.27V225.03M183 221.21V224.99M183.5 221.26V224.84M184 221.07V224.93M184.5 220.89V225.01M185 220.8V225M185.5 220.85V224.85M186 221.08V224.52M186.5 220.74V224.76M187 220.93V224.47M187.5 220.69V223.31M188 220.71V223.3M188.5 220.96V223.06M189 221.05V222.97M189.5 221.11V222.91M190 221.01V223.02M190.5 221.05V222.99M191 221.15V222.89M191.5 221.12V222.92M192 221.27V222.78M192.5 221.29V222.77M193 221.34V222.73M193.5 221.54V222.53M194 221.47V222.61M194.5 221.53V222.55M195 221.63V222.46M195.5 221.69V222.4M196 221.88V222.32M196.5 221.87V222.33M197 221.86V222.34M197.5 221.89V222.31M198 221.87V222.33M198.5 221.83V222.37M199 221.86V222.34M199.5 221.85V222.35M200 221.88V222.32M200.5 221.87V222.33M201 221.81V222.39M201.5 221.85V222.35M202 221.8V222.4M202.5 221.87V222.33M203 221.8V222.4M203.5 221.84V222.36M204 221.84V222.36M204.5 221.88V222.32M205 221.84V222.36M205.5 221.83V222.37M206 221.81V222.39M206.5 221.89V222.31M207 221.85V222.35M207.5 221.86V222.34M208 221.86V222.34M208.5 221.81V222.39M209 221.82V222.38M209.5 221.88V222.32M210 221.83V222.37M210.5 221.86V222.34M211 221.85V222.35M211.5 221.84V222.36M212 221.85V222.35M212.5 221.89V222.31M213 221.81V222.39M213.5 221.81V222.39M214 221.87V222.33M214.5 221.87V222.33M215 221.8V222.4M215.5 221.82V222.38M216 221.81V222.39M216.5 221.84V222.36M217 221.89V222.31M217.5 221.85V222.35M218 221.83V222.37M218.5 221.89V222.31M219 221.88V222.32M219.5 221.86V222.34M220 221.82V222.38M220.5 221.87V222.33M221 221.86V222.34M221.5 221.85V222.35M222 221.88V222.32M222.5 221.81V222.39M223 221.87V222.33M223.5 221.8V222.4M224 221.88V222.32M224.5 221.88V222.32M225 221.88V222.32M225.5 221.87V222.33M226 221.81V222.39M226.5 221.85V222.35M227 221.84V222.36M227.5 221.86V222.34M228 221.87V222.33M228.5 221.88V222.32M229 221.83V222.37M229.5 221.87V222.33M230 221.87V222.33M230.5 221.85V222.35M231 221.81V222.39M231.5 221.89V222.31M232 221.83V222.37M232.5 221.85V222.35M233 221.89V222.31M233.5 221.81V222.39M234 221.81V222.39M234.5 221.87V222.33M235 221.88V222.32M235.5 221.83V222.37M236 221.83V222.37M236.5 221.82V222.38M237 221.84V222.36M237.5 221.82V222.38M238 221.81V222.39M238.5 221.86V222.34M239 221.87V222.33M239.5 221.83V222.37M240 221.88V222.32M240.5 221.84V222.36M241 221.87V222.33M241.5 221.89V222.31M242 221.85V222.35M242.5 221.83V222.37M243 221.85V222.35M243.5 221.87V222.33M244 221.83V222.37M244.5 221.89V222.31M245 221.83V222.37M245.5 221.87V222.33M246 221.81V222.39M246.5 221.89V222.31M247 221.85V222.35M247.5 221.87V222.33M248 221.82V222.38M248.5 221.87V222.33M249 221.86V222.34M249.5 221.87V222.33M250 221.82V222.38M250.5 221.8V222.4M250.8 220.28V223.97M251.3 220.43V224.76M251.8 219.13V225.08M252.3 220.42V223.99M252.8 219.5V224.79M253.3 220.93V223.22M253.8 221.25V224.6M254.3 220.34V225.2M254.8 220.39V225.57M255.3 220.71V223.78M255.8 220.36V225.26M256.3 221.68V223.8M256.8 220.89V224.03M257.3 220.78V223.75M257.8 221.4V223.37M258.3 221.59V224.56M258.8 221.95V224.23M259.3 221.24V223.74M259.8 220.86V225.07M260.3 220.65V223.74M260.8 220.91V224.11M261.3 220.11V224.54M261.8 221.58V224.45M262.3 221.56V223.49M262.8 220.83V224.91M263.3 221.16V223.1M263.8 222.01V224.01M264.3 221.56V224.09M264.8 220.28V224.54M265.3 221.75V224.29M265.8 220.58V224.05M266.3 220.44V224.29M266.8 220.67V223.42M267.3 220.78V225.13M267.8 220.9V225.05M268.3 221.11V223.41M268.8 221V224.96M269.3 219.49V225.32M269.8 220.73V224.16M270.3 220.69V225.19M270.8 221.11V224.51M271.3 219.91V225.74M271.5 224.03V228.7M272 221.92V229.04M272.5 223.5V229.61M273 221.95V228.73M273.5 221.75V230.3M274 220.32V229.97M274.5 222.96V229.64M275 222.04V230.88M275.5 223.39V227.56M276 222.99V227.64M276.5 221.08V230.82M277 220.86V230.38M277.5 221.16V230.34M278 223.49V229.07M278.5 220.34V230.08M279 222.21V229.87M279.5 222.96V228.34M280 222.92V227.86M280.5 223.2V228.86M281 221.34V229.47M281.5 223.51V227.71M282 221.21V229.56M282.5 222.37V228.48M283 221.41V230.56M283.5 222.98V227.57M284 222.65V229.35M284.5 221.14V229.41M285 223.61V228.88M285.5 222.16V229.03M286 223.55V229.79M286.5 222.91V229.21M287 222.52V229.13M287.5 221.8V231.72M288 222.14V228.84M288.5 220.95V230.06M289 224.43V228.83M289.5 222.92V230.09M290 223.07V230.15M290.5 221.75V229.15M291 223.84V228.29M291.5 222.38V230.88M292 223.71V228.61M292.5 222.62V229.31M293 223V228.21M293.5 222.83V230.41M294 223.45V228.38M294.5 222.02V231.32M295 222.6V228.03M295.5 221.63V231.7M296 221.6V228.76M296.5 220.77V230.64M297 221.23V230.91M297.5 220.75V229.9M298 220.98V229.85M298.5 223.16V229.66M299 220.82V229.86M299.5 223.02V228.33M300 222.1V229.18M300.5 223.07V227.76M301 222.33V230.56M301.5 223.82V227.98M302 220.88V229.22M302.5 220.79V229.56M303 222.19V229.52M303.5 221.73V229.18M304 222.78V229" stroke="#000" stroke-width="0.9" fill="none"/>
<path d="M101 213.04V226.8M103.64 212.43V226.85M106.2 212.07V226.91M108.68 212.2V226.96M111.18 211.87V227.01M113.68 211.25V227.06M116.4 211.35V227.11M119.12 210.21V227.17M121.67 209.98V227.22M124.22 210.83V227.27M126.84 210.74V227.33M129.45 210.07V227.38M131.97 211.18V227.43M134.52 211.22V227.48M137.07 211.46V227.54M139.61 210.73V227.59M142.3 210.54V227.64M145.03 209.1V227.7M147.7 209.08V227.75M150.18 209.89V227.79M152.79 210.18V227.68M155.45 209.64V227.56M158.03 210V227.45M160.63 209.69V227.34M163.28 209.83V227.22M165.96 209.38V227.11M168.61 209.11V226.99M171.12 209.43V226.88M173.79 209.63V226.77M176.36 210.74V226.66M178.95 209.87V226.55M181.63 210.09V226.06M184.21 211.59V225.38M186.93 215.21V224.65M187.5 219.51V223.5M190.2 220.21V223.15M192.88 220.78V222.8M195.48 221.41V222.47M196 221.8V222.4" stroke="#000" stroke-width="1.15" fill="none"/>
<path d="M271.5 211.78V230.5M274.15 207.21V230.64M276.93 203.12V230.79M279.7 201.79V230.94M282.27 203.24V231.08M285.1 205.09V231.24M287.74 199.76V231.38M290.44 203.62V231.47M293.07 201.97V231.29M295.81 204.32V231.1M298.56 200.62V230.91M301.2 204V230.73M303.97 202.91V230.54" stroke="#000" stroke-width="0.85" fill="none"/>
<path d="M101.3 226.8V226.51M103.94 226.85V226.74M106.5 226.91V226.96M108.98 226.96V227.18M111.48 227.01V227.37M113.98 227.06V227.61M116.7 227.11V227.89M119.42 227.17V228.08M121.97 227.22V228.44M124.52 227.27V228.58M127.14 227.33V228.58M129.75 227.38V228.69M132.27 227.43V228.65M134.82 227.48V228.69M137.37 227.54V228.9M139.91 227.59V229.52M142.6 227.64V230.22M145.33 227.7V230.79M148 227.75V230.76M150.48 227.79V230.63M153.09 227.68V230.84M155.75 227.56V230.7M158.33 227.45V230.5M160.93 227.34V230.81M163.58 227.22V229.74M166.26 227.11V229.37M168.91 226.99V228.72M171.42 226.88V228.21M174.09 226.77V227.52M176.66 226.66V226.91M179.25 226.55V226.33M181.93 226.06V225.75M184.51 225.38V225.22M187.23 224.65V224.62M187.8 223.5V224.37M190.5 223.15V223.79M193.18 222.8V223.2M195.78 222.47V222.6M196.3 222.4V222.4M271.8 230.5V228.46M274.45 230.64V229.86M277.23 230.79V231.64M280 230.94V233.72M282.57 231.08V235.07M285.4 231.24V234.24M288.04 231.38V235.38M290.74 231.47V234.96M293.37 231.29V234.72M296.11 231.1V234.22M298.86 230.91V233.64M301.5 230.73V233.52M304.27 230.54V232.95" stroke="#000" stroke-width="0.8" fill="none"/>
<path d="M100.9 207.2 L101.35 207.12 L101.93 207.01 L102.62 206.88 L103.4 206.74 L104.25 206.59 L105.14 206.45 L106.07 206.31 L107 206.2 L107.97 206.1 L109 205.99 L110.08 205.89 L111.21 205.79 L112.35 205.71 L113.51 205.65 L114.66 205.61 L115.8 205.6 L116.93 205.62 L118.08 205.68 L119.23 205.76 L120.39 205.86 L121.55 205.97 L122.7 206.08 L123.86 206.19 L125 206.3 L126.16 206.41 L127.33 206.53 L128.52 206.67 L129.7 206.8 L130.85 206.93 L131.97 207.04 L133.02 207.13 L134 207.2 L134.89 207.24 L135.7 207.25 L136.46 207.25 L137.17 207.23 L137.86 207.2 L138.55 207.17 L139.26 207.13 L140 207.1 L140.79 207.06 L141.61 207 L142.45 206.94 L143.29 206.88 L144.11 206.81 L144.9 206.76 L145.63 206.72 L146.3 206.7 L146.86 206.7 L147.31 206.72 L147.69 206.75 L148.04 206.79 L148.41 206.83 L148.83 206.89 L149.35 206.94 L150 207 L150.78 207.06 L151.66 207.11 L152.61 207.17 L153.62 207.24 L154.68 207.31 L155.77 207.39 L156.88 207.49 L158 207.6 L159.15 207.72 L160.35 207.86 L161.59 208 L162.85 208.16 L164.12 208.32 L165.38 208.5 L166.61 208.69 L167.8 208.9 L168.95 209.11 L170.07 209.34 L171.17 209.57 L172.26 209.81 L173.34 210.07 L174.42 210.36 L175.5 210.67 L176.6 211 L177.71 211.37 L178.82 211.77 L179.93 212.2 L181.04 212.64 L182.16 213.1 L183.27 213.57 L184.39 214.04 L185.5 214.5 L186.61 214.97 L187.72 215.46 L188.84 215.96 L189.95 216.46 L191.06 216.96 L192.18 217.43 L193.29 217.89 L194.4 218.3 L195.5 218.69 L196.58 219.05 L197.66 219.4 L198.74 219.73 L199.83 220.04 L200.95 220.32 L202.1 220.57 L203.3 220.8 L204.48 220.99 L205.61 221.16 L206.73 221.29 L207.89 221.4 L209.15 221.49 L210.56 221.57 L212.16 221.64 L214 221.7 L216.21 221.76 L218.81 221.8 L221.65 221.84 L224.61 221.86 L227.55 221.86 L230.35 221.86 L232.88 221.84 L235 221.8 L236.71 221.74 L238.14 221.66 L239.34 221.57 L240.38 221.46 L241.3 221.34 L242.17 221.22 L243.05 221.11 L244 221 L244.97 220.9 L245.89 220.81 L246.77 220.72 L247.62 220.62 L248.46 220.53 L249.3 220.43 L250.14 220.32 L251 220.2 L251.88 220.08 L252.77 219.97 L253.67 219.86 L254.56 219.74 L255.45 219.6 L256.32 219.44 L257.17 219.24 L258 219 L258.83 218.7 L259.66 218.35 L260.5 217.96 L261.31 217.54 L262.09 217.12 L262.8 216.71 L263.45 216.33 L264 216 L264.42 215.73 L264.7 215.53 L264.88 215.36 L265.03 215.19 L265.16 215.01 L265.34 214.79 L265.61 214.49 L266 214.1 L266.53 213.61 L267.15 213.04 L267.84 212.4 L268.57 211.72 L269.34 211 L270.12 210.27 L270.88 209.53 L271.6 208.8 L272.3 208.06 L273 207.27 L273.7 206.47 L274.4 205.65 L275.1 204.84 L275.8 204.05 L276.5 203.3 L277.2 202.6 L277.9 201.94 L278.6 201.29 L279.3 200.67 L280.01 200.07 L280.71 199.52 L281.41 199 L282.1 198.52 L282.8 198.1 L283.49 197.73 L284.18 197.42 L284.87 197.16 L285.55 196.93 L286.23 196.74 L286.92 196.57 L287.61 196.43 L288.3 196.3 L289 196.2 L289.69 196.13 L290.39 196.09 L291.09 196.07 L291.8 196.07 L292.5 196.08 L293.2 196.09 L293.9 196.1 L294.6 196.11 L295.31 196.13 L296.03 196.16 L296.74 196.2 L297.44 196.24 L298.14 196.29 L298.83 196.34 L299.5 196.4 L300.19 196.46 L300.91 196.54 L301.64 196.63 L302.35 196.72 L303.02 196.81 L303.62 196.89 L304.12 196.95 L304.5 197" fill="none" stroke="#ff0000" stroke-width="1.6" stroke-linejoin="round"/>
<path d="M334.4 72.3H354.9" stroke="#ff0000" stroke-width="1.5"/>
<path d="M334.4 220.4H354.9" stroke="#ff0000" stroke-width="1.5"/>
<text transform="translate(357.56,76.4) scale(0.9617,1)" font-size="10.61" font-weight="normal" fill="#111" stroke="#111" stroke-width="0.15">ENV</text>
<text transform="translate(357.56,224.7) scale(0.9617,1)" font-size="10.61" font-weight="normal" fill="#111" stroke="#111" stroke-width="0.15">ENV</text>
<path d="M82.5 121.5H322.7 M82.5 174.5H322.7" stroke="#666666" stroke-width="1" fill="none"/>
<path d="M119.45 121.5v2.4 M119.45 174.5v-2.4M156.5 121.5v2.4 M156.5 174.5v-2.4M193.55 121.5v2.4 M193.55 174.5v-2.4M230.6 121.5v2.4 M230.6 174.5v-2.4M267.65 121.5v2.4 M267.65 174.5v-2.4M304.7 121.5v2.4 M304.7 174.5v-2.4" stroke="#666666" stroke-width="1" fill="none"/>
<path d="M82.5 121V175" stroke="#7f7fff" stroke-width="1" fill="none"/>
<path d="M323 121V175" stroke="#008000" stroke-width="1" fill="none"/>
<path d="M82.5 121.5h2.4M82.5 148h2.4M82.5 174.5h2.4" stroke="#7f7fff" stroke-width="1" fill="none"/>
<path d="M322.7 127h-2.4M322.7 148.4h-2.4M322.7 169.7h-2.4" stroke="#008000" stroke-width="1" fill="none"/>
<path d="M82.5 269.5H322.7 M82.5 322.9H322.7" stroke="#666666" stroke-width="1" fill="none"/>
<path d="M119.45 269.5v2.4 M119.45 322.9v-2.4M156.5 269.5v2.4 M156.5 322.9v-2.4M193.55 269.5v2.4 M193.55 322.9v-2.4M230.6 269.5v2.4 M230.6 322.9v-2.4M267.65 269.5v2.4 M267.65 322.9v-2.4M304.7 269.5v2.4 M304.7 322.9v-2.4" stroke="#666666" stroke-width="1" fill="none"/>
<path d="M82.5 269V323.4" stroke="#7f7fff" stroke-width="1" fill="none"/>
<path d="M323 269V323.4" stroke="#008000" stroke-width="1" fill="none"/>
<path d="M82.5 269.5h2.4M82.5 296.2h2.4M82.5 322.9h2.4" stroke="#7f7fff" stroke-width="1" fill="none"/>
<path d="M322.7 275.1h-2.4M322.7 296.6h-2.4M322.7 317.8h-2.4" stroke="#008000" stroke-width="1" fill="none"/>
<path d="M101.1 125.5 L101.69 125.51 L102.47 125.53 L103.39 125.54 L104.42 125.56 L105.52 125.59 L106.62 125.62 L107.7 125.65 L108.7 125.7 L109.65 125.75 L110.6 125.81 L111.55 125.87 L112.5 125.94 L113.45 126.02 L114.4 126.11 L115.35 126.2 L116.3 126.3 L117.23 126.41 L118.14 126.53 L119.04 126.65 L119.94 126.78 L120.87 126.92 L121.82 127.07 L122.83 127.23 L123.9 127.4 L125.05 127.58 L126.28 127.77 L127.55 127.97 L128.86 128.17 L130.18 128.39 L131.49 128.62 L132.77 128.85 L134 129.1 L135.21 129.37 L136.43 129.66 L137.65 129.98 L138.84 130.29 L140 130.61 L141.09 130.9 L142.09 131.17 L143 131.4 L143.77 131.57 L144.39 131.69 L144.92 131.78 L145.39 131.86 L145.85 131.94 L146.34 132.04 L146.91 132.19 L147.6 132.4 L148.43 132.68 L149.36 133.01 L150.36 133.37 L151.4 133.77 L152.44 134.18 L153.44 134.6 L154.37 135.01 L155.2 135.4 L155.9 135.76 L156.49 136.1 L157.01 136.42 L157.5 136.76 L157.99 137.11 L158.51 137.51 L159.1 137.97 L159.8 138.5 L160.61 139.12 L161.49 139.82 L162.43 140.57 L163.41 141.37 L164.42 142.19 L165.43 143.01 L166.43 143.82 L167.4 144.6 L168.35 145.36 L169.3 146.11 L170.25 146.87 L171.2 147.62 L172.15 148.38 L173.1 149.12 L174.05 149.87 L175 150.6 L175.96 151.34 L176.94 152.09 L177.92 152.84 L178.89 153.58 L179.86 154.31 L180.81 155.01 L181.72 155.68 L182.6 156.3 L183.43 156.88 L184.23 157.42 L185 157.93 L185.74 158.41 L186.48 158.88 L187.21 159.32 L187.95 159.76 L188.7 160.2 L189.47 160.64 L190.25 161.07 L191.03 161.5 L191.81 161.91 L192.58 162.3 L193.34 162.67 L194.08 163 L194.8 163.3 L195.45 163.54 L196.03 163.74 L196.57 163.89 L197.11 164.03 L197.68 164.15 L198.33 164.28 L199.09 164.42 L200 164.6 L201.09 164.81 L202.34 165.04 L203.71 165.29 L205.15 165.54 L206.62 165.79 L208.08 166.04 L209.49 166.28 L210.8 166.5 L212.02 166.71 L213.18 166.91 L214.31 167.1 L215.42 167.29 L216.53 167.47 L217.65 167.65 L218.8 167.82 L220 168 L221.26 168.18 L222.56 168.36 L223.89 168.54 L225.23 168.72 L226.58 168.89 L227.91 169.04 L229.23 169.18 L230.5 169.3 L231.73 169.4 L232.94 169.5 L234.13 169.59 L235.31 169.66 L236.47 169.71 L237.64 169.74 L238.81 169.74 L240 169.7 L241.2 169.64 L242.43 169.56 L243.65 169.46 L244.88 169.32 L246.1 169.16 L247.3 168.95 L248.47 168.7 L249.6 168.4 L250.7 168.04 L251.77 167.64 L252.83 167.19 L253.86 166.71 L254.87 166.18 L255.86 165.62 L256.84 165.02 L257.8 164.4 L258.74 163.74 L259.65 163.05 L260.54 162.32 L261.42 161.55 L262.29 160.75 L263.15 159.93 L264.02 159.08 L264.9 158.2 L265.79 157.27 L266.67 156.28 L267.56 155.25 L268.45 154.2 L269.34 153.15 L270.22 152.12 L271.11 151.13 L272 150.2 L272.89 149.32 L273.77 148.45 L274.66 147.6 L275.55 146.79 L276.44 146.01 L277.33 145.28 L278.21 144.61 L279.1 144 L279.99 143.46 L280.88 142.99 L281.76 142.57 L282.65 142.21 L283.54 141.87 L284.43 141.57 L285.31 141.28 L286.2 141 L287.06 140.74 L287.89 140.5 L288.7 140.3 L289.51 140.11 L290.36 139.95 L291.26 139.79 L292.23 139.64 L293.3 139.5 L294.56 139.36 L296.01 139.23 L297.59 139.11 L299.19 139.01 L300.74 138.91 L302.15 138.83 L303.33 138.76 L304.2 138.7" fill="none" stroke="#0000ff" stroke-width="1.9" stroke-linejoin="round"/>
<path d="M101.1 133.7 L102.18 133.65 L103.63 133.59 L105.35 133.51 L107.26 133.42 L109.26 133.34 L111.28 133.25 L113.22 133.17 L115 133.1 L116.63 133.04 L118.2 133 L119.74 132.96 L121.26 132.92 L122.8 132.88 L124.37 132.83 L126 132.77 L127.7 132.7 L129.51 132.61 L131.41 132.5 L133.38 132.38 L135.38 132.26 L137.38 132.13 L139.33 132.01 L141.22 131.9 L143 131.8 L144.67 131.72 L146.27 131.64 L147.8 131.58 L149.29 131.52 L150.76 131.46 L152.22 131.41 L153.7 131.35 L155.2 131.3 L156.75 131.24 L158.32 131.16 L159.91 131.08 L161.49 131.01 L163.05 130.94 L164.57 130.9 L166.02 130.88 L167.4 130.9 L168.7 130.95 L169.93 131.02 L171.1 131.11 L172.23 131.22 L173.33 131.35 L174.4 131.51 L175.45 131.69 L176.5 131.9 L177.56 132.15 L178.63 132.44 L179.69 132.76 L180.72 133.1 L181.7 133.45 L182.62 133.79 L183.46 134.11 L184.2 134.4 L184.81 134.64 L185.3 134.85 L185.69 135.03 L186.02 135.2 L186.33 135.39 L186.64 135.6 L186.99 135.87 L187.4 136.2 L187.87 136.6 L188.36 137.06 L188.87 137.57 L189.39 138.11 L189.92 138.66 L190.45 139.22 L190.98 139.77 L191.5 140.3 L192.01 140.81 L192.53 141.33 L193.04 141.84 L193.55 142.35 L194.06 142.86 L194.57 143.38 L195.09 143.89 L195.6 144.4 L196.11 144.92 L196.62 145.43 L197.14 145.96 L197.65 146.47 L198.16 146.99 L198.67 147.5 L199.19 148.01 L199.7 148.5 L200.21 148.99 L200.72 149.48 L201.24 149.97 L201.75 150.45 L202.26 150.92 L202.78 151.37 L203.29 151.8 L203.8 152.2 L204.3 152.57 L204.79 152.9 L205.28 153.22 L205.76 153.51 L206.26 153.8 L206.78 154.09 L207.32 154.39 L207.9 154.7 L208.51 155.03 L209.14 155.36 L209.8 155.69 L210.48 156.03 L211.17 156.37 L211.89 156.71 L212.64 157.06 L213.4 157.4 L214.21 157.75 L215.06 158.1 L215.95 158.45 L216.86 158.8 L217.76 159.15 L218.65 159.5 L219.5 159.85 L220.3 160.2 L221.05 160.54 L221.78 160.87 L222.49 161.19 L223.17 161.51 L223.83 161.84 L224.47 162.18 L225.09 162.53 L225.7 162.9 L226.29 163.3 L226.87 163.73 L227.43 164.18 L227.97 164.63 L228.49 165.08 L228.98 165.52 L229.45 165.93 L229.9 166.3 L230.31 166.65 L230.7 166.99 L231.06 167.32 L231.39 167.63 L231.71 167.91 L232.02 168.15 L232.31 168.35 L232.6 168.5 L232.87 168.6 L233.11 168.66 L233.33 168.69 L233.54 168.68 L233.76 168.62 L233.98 168.52 L234.22 168.38 L234.5 168.2 L234.81 167.96 L235.14 167.66 L235.49 167.3 L235.85 166.91 L236.22 166.49 L236.59 166.06 L236.95 165.63 L237.3 165.2 L237.62 164.79 L237.92 164.38 L238.21 163.96 L238.49 163.54 L238.8 163.09 L239.14 162.6 L239.54 162.08 L240 161.5 L240.54 160.87 L241.14 160.19 L241.79 159.47 L242.48 158.71 L243.19 157.93 L243.91 157.13 L244.61 156.32 L245.3 155.5 L245.96 154.67 L246.6 153.82 L247.24 152.96 L247.89 152.07 L248.55 151.18 L249.23 150.26 L249.94 149.34 L250.7 148.4 L251.51 147.43 L252.36 146.42 L253.24 145.39 L254.14 144.34 L255.06 143.31 L255.99 142.29 L256.9 141.32 L257.8 140.4 L258.69 139.53 L259.57 138.68 L260.46 137.86 L261.35 137.07 L262.24 136.31 L263.12 135.58 L264.01 134.88 L264.9 134.2 L265.79 133.56 L266.67 132.95 L267.56 132.38 L268.45 131.84 L269.34 131.31 L270.22 130.8 L271.11 130.3 L272 129.8 L272.89 129.3 L273.77 128.8 L274.66 128.31 L275.55 127.84 L276.44 127.38 L277.33 126.95 L278.21 126.56 L279.1 126.2 L279.99 125.87 L280.88 125.57 L281.76 125.3 L282.65 125.06 L283.54 124.84 L284.43 124.66 L285.31 124.51 L286.2 124.4 L287.06 124.32 L287.89 124.28 L288.7 124.27 L289.51 124.29 L290.36 124.34 L291.26 124.43 L292.23 124.55 L293.3 124.7 L294.56 124.92 L296.01 125.21 L297.59 125.55 L299.19 125.92 L300.74 126.28 L302.15 126.62 L303.33 126.9 L304.2 127.1" fill="none" stroke="#008000" stroke-width="1.9" stroke-linejoin="round"/>
<path d="M101.1 273.5 L101.69 273.51 L102.47 273.52 L103.39 273.53 L104.42 273.54 L105.52 273.56 L106.62 273.6 L107.7 273.64 L108.7 273.7 L109.65 273.78 L110.6 273.87 L111.55 273.98 L112.5 274.1 L113.45 274.22 L114.4 274.35 L115.35 274.48 L116.3 274.6 L117.23 274.71 L118.14 274.82 L119.04 274.93 L119.94 275.04 L120.87 275.15 L121.82 275.28 L122.83 275.43 L123.9 275.6 L125.07 275.8 L126.35 276.03 L127.68 276.27 L129.05 276.53 L130.4 276.79 L131.7 277.05 L132.92 277.29 L134 277.5 L134.94 277.69 L135.75 277.85 L136.48 278.01 L137.16 278.15 L137.81 278.29 L138.48 278.45 L139.2 278.61 L140 278.8 L140.87 279 L141.79 279.21 L142.73 279.42 L143.7 279.64 L144.68 279.88 L145.66 280.13 L146.64 280.41 L147.6 280.7 L148.55 281.01 L149.5 281.32 L150.45 281.64 L151.4 281.99 L152.35 282.36 L153.3 282.76 L154.25 283.21 L155.2 283.7 L156.15 284.25 L157.1 284.84 L158.05 285.48 L158.99 286.16 L159.94 286.85 L160.89 287.56 L161.85 288.28 L162.8 289 L163.76 289.72 L164.72 290.47 L165.68 291.23 L166.65 292 L167.62 292.78 L168.58 293.56 L169.54 294.33 L170.5 295.1 L171.45 295.87 L172.41 296.64 L173.36 297.42 L174.31 298.2 L175.25 298.97 L176.2 299.73 L177.15 300.48 L178.1 301.2 L179.05 301.91 L180 302.6 L180.95 303.28 L181.9 303.95 L182.85 304.61 L183.8 305.25 L184.75 305.88 L185.7 306.5 L186.66 307.12 L187.62 307.74 L188.59 308.35 L189.56 308.94 L190.52 309.52 L191.46 310.06 L192.39 310.55 L193.3 311 L194.15 311.38 L194.93 311.7 L195.68 311.98 L196.43 312.22 L197.2 312.45 L198.03 312.68 L198.95 312.92 L200 313.2 L201.16 313.51 L202.39 313.84 L203.69 314.18 L205.06 314.52 L206.5 314.87 L208.01 315.2 L209.57 315.51 L211.2 315.8 L212.96 316.07 L214.88 316.33 L216.91 316.57 L218.98 316.8 L221.04 317.02 L223.01 317.23 L224.86 317.42 L226.5 317.6 L227.93 317.77 L229.21 317.94 L230.37 318.1 L231.44 318.24 L232.46 318.36 L233.47 318.47 L234.5 318.55 L235.6 318.6 L236.77 318.62 L237.98 318.62 L239.21 318.6 L240.43 318.55 L241.62 318.48 L242.74 318.4 L243.78 318.31 L244.7 318.2 L245.48 318.09 L246.12 317.97 L246.66 317.84 L247.15 317.7 L247.62 317.53 L248.11 317.33 L248.66 317.09 L249.3 316.8 L250.04 316.46 L250.84 316.08 L251.68 315.65 L252.55 315.19 L253.43 314.71 L254.31 314.21 L255.17 313.71 L256 313.2 L256.79 312.7 L257.54 312.2 L258.28 311.69 L259.01 311.17 L259.76 310.62 L260.53 310.03 L261.34 309.39 L262.2 308.7 L263.12 307.94 L264.09 307.11 L265.1 306.23 L266.13 305.31 L267.18 304.38 L268.23 303.44 L269.27 302.51 L270.3 301.6 L271.31 300.69 L272.32 299.75 L273.34 298.81 L274.35 297.86 L275.36 296.94 L276.37 296.06 L277.39 295.24 L278.4 294.5 L279.41 293.83 L280.42 293.21 L281.43 292.65 L282.44 292.13 L283.46 291.65 L284.47 291.21 L285.48 290.79 L286.5 290.4 L287.51 290.04 L288.51 289.73 L289.5 289.45 L290.5 289.21 L291.51 288.98 L292.54 288.78 L293.6 288.59 L294.7 288.4 L295.91 288.22 L297.25 288.06 L298.65 287.91 L300.06 287.77 L301.41 287.66 L302.62 287.56 L303.64 287.47 L304.4 287.4" fill="none" stroke="#0000ff" stroke-width="1.9" stroke-linejoin="round"/>
<path d="M101.1 280.7 L102.18 280.67 L103.63 280.63 L105.35 280.58 L107.26 280.53 L109.26 280.47 L111.28 280.42 L113.22 280.36 L115 280.3 L116.63 280.24 L118.2 280.16 L119.74 280.08 L121.26 280 L122.8 279.93 L124.37 279.86 L126 279.82 L127.7 279.8 L129.51 279.81 L131.41 279.83 L133.38 279.88 L135.38 279.94 L137.38 280 L139.33 280.07 L141.22 280.14 L143 280.2 L144.67 280.26 L146.27 280.31 L147.8 280.37 L149.29 280.43 L150.76 280.49 L152.22 280.56 L153.7 280.63 L155.2 280.7 L156.75 280.77 L158.35 280.84 L159.96 280.92 L161.56 280.99 L163.13 281.08 L164.64 281.17 L166.07 281.28 L167.4 281.4 L168.62 281.53 L169.74 281.68 L170.78 281.83 L171.77 281.99 L172.72 282.17 L173.64 282.36 L174.56 282.57 L175.5 282.8 L176.45 283.04 L177.4 283.3 L178.35 283.57 L179.27 283.85 L180.16 284.15 L181.02 284.48 L181.84 284.83 L182.6 285.2 L183.29 285.6 L183.93 286.03 L184.51 286.49 L185.06 286.96 L185.58 287.45 L186.11 287.96 L186.64 288.48 L187.2 289 L187.78 289.54 L188.35 290.1 L188.93 290.68 L189.51 291.28 L190.08 291.87 L190.66 292.46 L191.23 293.04 L191.8 293.6 L192.37 294.15 L192.94 294.71 L193.5 295.27 L194.07 295.81 L194.63 296.35 L195.19 296.86 L195.75 297.34 L196.3 297.8 L196.85 298.21 L197.38 298.59 L197.92 298.93 L198.45 299.26 L198.98 299.58 L199.52 299.9 L200.05 300.24 L200.6 300.6 L201.14 300.98 L201.67 301.38 L202.2 301.79 L202.74 302.2 L203.29 302.61 L203.86 303.02 L204.46 303.42 L205.1 303.8 L205.78 304.17 L206.48 304.52 L207.2 304.87 L207.96 305.21 L208.73 305.55 L209.53 305.89 L210.35 306.24 L211.2 306.6 L212.08 306.96 L212.99 307.32 L213.94 307.68 L214.9 308.04 L215.88 308.42 L216.86 308.82 L217.83 309.24 L218.8 309.7 L219.78 310.21 L220.8 310.77 L221.84 311.37 L222.88 311.98 L223.88 312.59 L224.83 313.18 L225.71 313.72 L226.5 314.2 L227.19 314.62 L227.8 315.01 L228.35 315.37 L228.84 315.69 L229.29 316 L229.71 316.28 L230.11 316.55 L230.5 316.8 L230.87 317.04 L231.2 317.28 L231.49 317.49 L231.76 317.69 L232.02 317.86 L232.27 318 L232.53 318.12 L232.8 318.2 L233.08 318.25 L233.35 318.26 L233.62 318.24 L233.89 318.2 L234.16 318.13 L234.44 318.04 L234.72 317.93 L235 317.8 L235.29 317.65 L235.59 317.49 L235.9 317.3 L236.21 317.09 L236.51 316.86 L236.82 316.6 L237.11 316.32 L237.4 316 L237.68 315.65 L237.94 315.26 L238.21 314.84 L238.46 314.39 L238.72 313.93 L238.97 313.46 L239.23 312.98 L239.5 312.5 L239.75 312.03 L239.99 311.56 L240.21 311.09 L240.44 310.61 L240.69 310.11 L240.98 309.58 L241.31 309.01 L241.7 308.4 L242.15 307.72 L242.65 306.98 L243.19 306.19 L243.76 305.38 L244.37 304.57 L245 303.77 L245.64 303 L246.3 302.3 L246.98 301.64 L247.71 301.01 L248.46 300.4 L249.23 299.82 L250 299.26 L250.78 298.72 L251.55 298.2 L252.3 297.7 L253.03 297.23 L253.76 296.8 L254.48 296.4 L255.19 296.02 L255.91 295.65 L256.63 295.27 L257.36 294.9 L258.1 294.5 L258.85 294.1 L259.6 293.72 L260.37 293.34 L261.13 292.95 L261.9 292.55 L262.67 292.13 L263.44 291.68 L264.2 291.2 L264.96 290.67 L265.72 290.11 L266.49 289.52 L267.25 288.91 L268.01 288.29 L268.77 287.66 L269.54 287.02 L270.3 286.4 L271.06 285.77 L271.82 285.12 L272.59 284.46 L273.35 283.79 L274.11 283.14 L274.87 282.5 L275.64 281.88 L276.4 281.3 L277.15 280.74 L277.88 280.2 L278.6 279.67 L279.32 279.16 L280.07 278.67 L280.83 278.21 L281.64 277.79 L282.5 277.4 L283.43 277.05 L284.42 276.72 L285.47 276.43 L286.53 276.16 L287.6 275.93 L288.65 275.72 L289.66 275.55 L290.6 275.4 L291.47 275.29 L292.3 275.23 L293.08 275.2 L293.84 275.19 L294.6 275.21 L295.37 275.24 L296.16 275.27 L297 275.3 L297.93 275.34 L298.95 275.39 L300.03 275.47 L301.1 275.54 L302.12 275.62 L303.05 275.7 L303.82 275.76 L304.4 275.8" fill="none" stroke="#008000" stroke-width="1.9" stroke-linejoin="round"/>
<circle cx="123.9" cy="127.4" r="3.0" fill="#ff0000"/>
<rect x="181.7" y="131.9" width="5.0" height="5.0" fill="#ff0000"/>
<rect x="234.8" y="162.8" width="5.0" height="5.0" fill="#ff0000"/>
<circle cx="249.6" cy="168.5" r="3.0" fill="#ff0000"/>
<path d="M141 112.6L131.71 120.66" stroke="#000" stroke-width="1.8" fill="none"/>
<path d="M127.4 124.4L129.72 117.62L134.44 123.06Z" fill="#000"/>
<path d="M201 119.2L191.62 127.28" stroke="#000" stroke-width="1.8" fill="none"/>
<path d="M187.3 131L189.65 124.23L194.35 129.68Z" fill="#000"/>
<path d="M222.6 150.8L229.71 158.43" stroke="#000" stroke-width="1.8" fill="none"/>
<path d="M233.6 162.6L226.74 160.52L232.01 155.61Z" fill="#000"/>
<path d="M273.3 167.3L260.29 167.86" stroke="#000" stroke-width="1.8" fill="none"/>
<path d="M254.6 168.1L260.64 164.24L260.95 171.43Z" fill="#000"/>
<circle cx="123.9" cy="275.6" r="3.0" fill="#ff0000"/>
<rect x="173" y="280.3" width="5.0" height="5.0" fill="#ff0000"/>
<rect x="235" y="313.5" width="5.0" height="5.0" fill="#ff0000"/>
<circle cx="249.5" cy="316.9" r="3.0" fill="#ff0000"/>
<path d="M141 261.8L131.74 269.7" stroke="#000" stroke-width="1.8" fill="none"/>
<path d="M127.4 273.4L129.78 266.64L134.45 272.12Z" fill="#000"/>
<path d="M191.6 267.9L182.71 275.57" stroke="#000" stroke-width="1.8" fill="none"/>
<path d="M178.4 279.3L180.74 272.52L185.45 277.97Z" fill="#000"/>
<path d="M224.2 299.4L231.28 306.86" stroke="#000" stroke-width="1.8" fill="none"/>
<path d="M235.2 311L228.32 308.98L233.55 304.02Z" fill="#000"/>
<path d="M273.3 316.3L260.3 316.72" stroke="#000" stroke-width="1.8" fill="none"/>
<path d="M254.6 316.9L260.68 313.1L260.91 320.3Z" fill="#000"/>
<text transform="translate(131.1,111.2) scale(1.0181,1)" font-size="10.03" font-weight="normal" fill="#1a1a1a" stroke="#1a1a1a" stroke-width="0.1">0.15cm</text>
<path d="M169.2 103.8V111.3 M165.6 108L169.2 111.6L172.8 108" stroke="#222" stroke-width="1.0" fill="none"/>
<text transform="translate(191.53,116.8) scale(1.0200,1)" font-size="9.52" font-weight="normal" fill="#1a1a1a" stroke="#1a1a1a" stroke-width="0.1">3dB</text>
<path d="M213.2 109.8V117.7 M209.6 114.4L213.2 118L216.8 114.4" stroke="#222" stroke-width="1.0" fill="none"/>
<text transform="translate(210.42,148.9) scale(1.0094,1)" font-size="9.8" font-weight="normal" fill="#1a1a1a" stroke="#1a1a1a" stroke-width="0.1">3dB</text>
<path d="M232.4 141.6V149.7 M228.8 144.9L232.4 141.3L236 144.9" stroke="#222" stroke-width="1.0" fill="none"/>
<text transform="translate(274.31,170.2) scale(0.9914,1)" font-size="10.17" font-weight="normal" fill="#1a1a1a" stroke="#1a1a1a" stroke-width="0.1">0.15cm</text>
<path d="M312.2 163.2V170.8 M308.6 166.5L312.2 162.9L315.8 166.5" stroke="#222" stroke-width="1.0" fill="none"/>
<text transform="translate(131.3,260.4) scale(1.0416,1)" font-size="9.74" font-weight="normal" fill="#1a1a1a" stroke="#1a1a1a" stroke-width="0.1">0.15cm</text>
<path d="M169.2 253.4V260.7 M165.6 257.4L169.2 261L172.8 257.4" stroke="#222" stroke-width="1.0" fill="none"/>
<text transform="translate(182.42,265.5) scale(1.1376,1)" font-size="8.69" font-weight="normal" fill="#1a1a1a" stroke="#1a1a1a" stroke-width="0.1">3dB</text>
<path d="M204.8 259.1V266.7 M201.2 263.4L204.8 267L208.4 263.4" stroke="#222" stroke-width="1.0" fill="none"/>
<text transform="translate(212.42,297.5) scale(1.1198,1)" font-size="8.83" font-weight="normal" fill="#1a1a1a" stroke="#1a1a1a" stroke-width="0.1">3dB</text>
<path d="M234.4 290.7V298.6 M230.8 294L234.4 290.4L238 294" stroke="#222" stroke-width="1.0" fill="none"/>
<text transform="translate(274.31,318.5) scale(1.0056,1)" font-size="10.03" font-weight="normal" fill="#1a1a1a" stroke="#1a1a1a" stroke-width="0.1">0.15cm</text>
<path d="M312.2 311.4V319.2 M308.6 314.7L312.2 311.1L315.8 314.7" stroke="#222" stroke-width="1.0" fill="none"/>
<text x="62.32" y="51.79" font-size="12" fill="#000">0.5</text>
<text x="72.39" y="78.59" font-size="12" fill="#000">0</text>
<text x="58.33" y="104.49" font-size="12" fill="#000">-0.5</text>
<text x="62.32" y="199.79" font-size="12" fill="#000">0.5</text>
<text x="72.39" y="226.64" font-size="12" fill="#000">0</text>
<text x="58.33" y="252.59" font-size="12" fill="#000">-0.5</text>
<text x="72.38" y="126.69" font-size="12" fill="#0000ff">4</text>
<text x="72.63" y="152.99" font-size="12" fill="#0000ff">2</text>
<text x="72.49" y="179.09" font-size="12" fill="#0000ff">0</text>
<text x="72.38" y="274.69" font-size="12" fill="#0000ff">4</text>
<text x="72.63" y="301.19" font-size="12" fill="#0000ff">2</text>
<text x="72.49" y="327.49" font-size="12" fill="#0000ff">0</text>
<text x="326.47" y="131.39" font-size="12" fill="#008000">-20</text>
<text x="326.47" y="152.69" font-size="12" fill="#008000">-40</text>
<text x="326.47" y="174.09" font-size="12" fill="#008000">-60</text>
<text x="326.47" y="279.39" font-size="12" fill="#008000">-20</text>
<text x="326.47" y="300.89" font-size="12" fill="#008000">-40</text>
<text x="326.47" y="322.09" font-size="12" fill="#008000">-60</text>
<text x="111.34" y="337.3" font-size="12" fill="#000">0.3</text>
<text x="148.3" y="337.3" font-size="12" fill="#000">0.4</text>
<text x="185.43" y="337.3" font-size="12" fill="#000">0.5</text>
<text x="222.49" y="337.3" font-size="12" fill="#000">0.6</text>
<text x="259.58" y="337.3" font-size="12" fill="#000">0.7</text>
<text x="296.59" y="337.3" font-size="12" fill="#000">0.8</text>
<text transform="translate(182.62,358.6) scale(0.9962,1)" font-size="12.7" font-weight="normal" fill="#111" stroke="#111" stroke-width="0.15">Time (s)</text>
<text transform="translate(37.6,169.51) rotate(-90) scale(1.1990,1)" font-size="11.87" font-weight="normal" fill="#1450ff">Interlip</text>
<text transform="translate(54.8,173.36) rotate(-90) scale(1.0245,1)" font-size="12.56" font-weight="normal" fill="#1450ff">Dist (cm)</text>
<text transform="translate(37.8,318.62) rotate(-90) scale(1.2049,1)" font-size="11.87" font-weight="normal" fill="#1450ff">Interlip</text>
<text transform="translate(55,322.66) rotate(-90) scale(1.0328,1)" font-size="12.56" font-weight="normal" fill="#1450ff">Dist (cm)</text>
<text transform="translate(365.5,123) rotate(90) scale(0.9430,1)" font-size="12.97" font-weight="normal" fill="#00b050" stroke="#00b050" stroke-width="0.2">ENV (dB)</text>
<text transform="translate(365.5,271.1) rotate(90) scale(0.9430,1)" font-size="12.97" font-weight="normal" fill="#00b050" stroke="#00b050" stroke-width="0.2">ENV (dB)</text>
<text transform="translate(21.57,9.5) scale(0.9385,1)" font-size="12.17" font-weight="bold" fill="#000">SYNC</text>
<text transform="translate(21.97,27) scale(1.0062,1)" font-size="12.28" font-weight="bold" fill="#000">McGurk</text>
<text transform="translate(23.39,363.3) scale(0.9648,1)" font-size="12.89" font-weight="bold" fill="#000">Congruent</text>
<text transform="translate(23.61,380.2) scale(0.8954,1)" font-size="12.94" font-weight="bold" fill="#000">AKA</text>
<path d="M0 186.2H394" stroke="#000" stroke-width="1.6" stroke-dasharray="5.6 3.48" fill="none"/></svg>
</body></html>
